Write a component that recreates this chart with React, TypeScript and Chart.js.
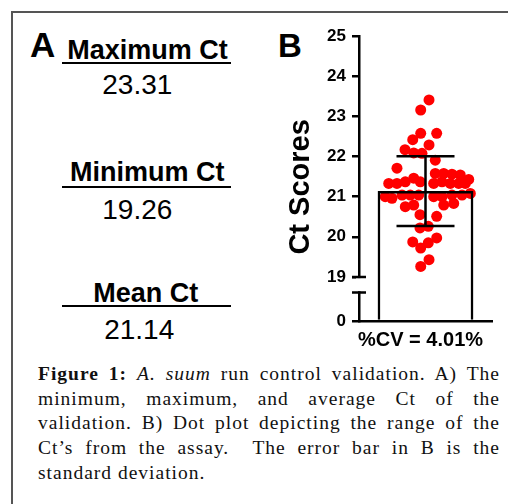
import React, { useEffect, useRef } from 'react';
import { Chart, registerables, LinearScale } from 'chart.js';

// ---------- data ----------
const CATEGORY = ['%CV = 4.01%'];
const MEAN_CT = [21.14];
const SD_CT = [0.87];
// Individual Ct scores
const CT_VALUES = [
  23.41, 23.16, 22.58, 22.58, 22.42, 22.29, 22.17, 22.09, 22.08, 21.91,
  21.71, 21.58, 21.58, 21.56, 21.54, 21.43, 21.33, 21.33, 21.37, 21.46,
  21.37, 21.33, 21.37, 21.33, 21.33, 21.33, 21.0, 20.96, 21.04, 21.04,
  21.04, 21.0, 21.0, 21.04, 21.04, 21.08, 20.75, 20.79, 20.79, 20.83,
  20.55, 20.51, 20.22, 20.26, 19.87, 19.72, 19.85, 19.97, 19.26, 19.43,
];
// Horizontal swarm position of each dot (-1 .. 1 across the plot width)
const SWARM_X = [
  0.053, -0.072, -0.072, 0.168, -0.192, 0.053, -0.308, -0.177, -0.053, 0.147,
  -0.429, 0.147, 0.274, 0.398, 0.523, 0.65, -0.553, -0.429, -0.304, -0.177,
  -0.078, 0.123, 0.248, 0.373, 0.499, 0.598, -0.605, -0.504, -0.353, -0.229,
  -0.102, 0.123, 0.248, 0.398, 0.549, 0.674, -0.304, -0.177, 0.274, 0.424,
  -0.083, 0.168, -0.083, 0.042, -0.192, -0.072, 0.042, 0.168, -0.072, 0.053,
];
const Y_TICKS = [0, 19, 20, 21, 22, 23, 24, 25];
const Y_TITLE = 'Ct Scores';
const Y_MAX = 25;
const BREAK_AT = 19; // upper segment starts here
const AXIS_LOW = 17.9; // where 0 sits on the upper segment's scale
const BREAK_RESUME = 12.3; // value where the lower segment resumes

const SUMMARY_TITLES = ['Maximum Ct', 'Minimum Ct', 'Mean Ct'];
const SUMMARY_VALUES = ['23.31', '19.26', '21.14'];

const SANS = '"Liberation Sans", Arial, sans-serif';
const SERIF = '"Liberation Serif", "Times New Roman", serif';

// ---------- broken linear scale: 0..19 squeezed below the break ----------
const toMapped = (v: number) => (v < BREAK_AT ? AXIS_LOW + (v / BREAK_AT) * (BREAK_AT - AXIS_LOW) : v);
const fromMapped = (m: number) => (m < BREAK_AT ? ((m - AXIS_LOW) / (BREAK_AT - AXIS_LOW)) * BREAK_AT : m);

class BrokenLinearScale extends LinearScale {
  static id = 'brokenLinear';
  static defaults = LinearScale.defaults;
  getPixelForValue(value: any) {
    if (value === null || value === undefined || isNaN(value)) return NaN;
    return super.getPixelForValue(toMapped(value));
  }
  getValueForPixel(pixel: number) {
    return fromMapped(super.getValueForPixel(pixel));
  }
}

Chart.register(...registerables, BrokenLinearScale as any);

const TICK_LEN = 7;

const errorBarPlugin = {
  id: 'errorBar',
  afterDatasetsDraw(chart: any) {
    const meta = chart.getDatasetMeta(1);
    const y = chart.scales.y;
    const ctx = chart.ctx;
    meta.data.forEach((bar: any, i: number) => {
      const x = bar.x;
      const top = y.getPixelForValue(MEAN_CT[i] + SD_CT[i]);
      const bot = y.getPixelForValue(MEAN_CT[i] - SD_CT[i]);
      const cap = 29;
      ctx.save();
      ctx.strokeStyle = '#000';
      ctx.lineWidth = 2.5;
      ctx.beginPath();
      ctx.moveTo(x, top);
      ctx.lineTo(x, bot);
      ctx.moveTo(x - cap, top);
      ctx.lineTo(x + cap, top);
      ctx.moveTo(x - cap, bot);
      ctx.lineTo(x + cap, bot);
      ctx.stroke();
      ctx.restore();
    });
  },
};

const axisBreakPlugin = {
  id: 'axisBreak',
  afterDraw(chart: any) {
    const y = chart.scales.y;
    const ctx = chart.ctx;
    const x = chart.chartArea.left;
    const pTop = y.getPixelForValue(BREAK_AT);
    const pBot = y.getPixelForValue(BREAK_RESUME);
    ctx.save();
    ctx.fillStyle = '#fff';
    ctx.fillRect(x - 3, pTop + 1.25, 6, pBot - pTop - 2.5);
    ctx.strokeStyle = '#000';
    ctx.lineWidth = 2.5;
    ctx.beginPath();
    ctx.moveTo(x - TICK_LEN, pTop);
    ctx.lineTo(x + TICK_LEN, pTop);
    ctx.moveTo(x - TICK_LEN, pBot);
    ctx.lineTo(x + TICK_LEN, pBot);
    ctx.stroke();
    // axis title
    const ca = chart.chartArea;
    ctx.translate(x - 58.3, (ca.top + ca.bottom) / 2 + 8.3);
    ctx.rotate(-Math.PI / 2);
    ctx.fillStyle = '#000';
    ctx.font = `bold 29px ${SANS}`;
    ctx.textAlign = 'center';
    ctx.textBaseline = 'middle';
    ctx.fillText(Y_TITLE, 0, 0);
    ctx.restore();
  },
};

function ChartB() {
  const ref = useRef<HTMLCanvasElement>(null);
  useEffect(() => {
    if (!ref.current) return;
    const chart = new Chart(ref.current, {
      type: 'bar',
      data: {
        labels: CATEGORY,
        datasets: [
          {
            type: 'scatter',
            data: CT_VALUES.map((v, i) => ({ x: SWARM_X[i], y: v })),
            backgroundColor: '#ff0000',
            borderWidth: 0,
            pointRadius: 5.5,
            xAxisID: 'xs',
            yAxisID: 'y',
            order: 2,
          } as any,
          {
            type: 'bar',
            data: MEAN_CT,
            backgroundColor: 'rgba(0,0,0,0)',
            borderColor: '#000',
            borderWidth: 2.5,
            barPercentage: 0.72,
            categoryPercentage: 1,
            grouped: false,
            xAxisID: 'x',
            yAxisID: 'y',
            order: 1,
          } as any,
        ],
      },
      options: {
        responsive: false,
        animation: false,
        layout: { padding: { top: 15.7, right: 16, bottom: 0, left: 0 } },
        plugins: { legend: { display: false }, tooltip: { enabled: false } },
        scales: {
          x: {
            type: 'category',
            position: 'bottom',
            grid: { display: false, drawTicks: false },
            border: { display: true, color: '#000', width: 2.5 },
            ticks: {
              color: '#000',
              font: { family: SANS, size: 20, weight: 'bold' },
              padding: 7,
              labelOffset: -5,
              maxRotation: 0,
              autoSkip: false,
            },
            afterFit: (s: any) => {
              s.height = 30;
            },
          },
          xs: { type: 'linear', display: false, min: -1, max: 1, offset: false },
          y: {
            type: 'brokenLinear',
            position: 'left',
            min: AXIS_LOW,
            max: Y_MAX,
            afterBuildTicks: (s: any) => {
              s.ticks = Y_TICKS.map((v) => ({ value: v }));
            },
            grid: {
              display: true,
              drawOnChartArea: false,
              drawTicks: true,
              tickLength: TICK_LEN,
              color: '#000',
              lineWidth: 2.5,
            },
            border: { display: true, color: '#000', width: 2.5 },
            ticks: {
              color: '#000',
              font: { family: SANS, size: 17, weight: 'bold' },
              padding: 6,
            },
            title: { display: false },
            afterFit: (s: any) => {
              s.width = 89;
            },
          } as any,
        },
      } as any,
      plugins: [errorBarPlugin, axisBreakPlugin],
    });
    return () => chart.destroy();
  }, []);
  return (
    <canvas
      ref={ref}
      width={238}
      height={331}
      style={{ position: 'absolute', left: 270, top: 20, width: 238, height: 331 }}
    />
  );
}

const TITLE_TOPS = [37.1, 158.8, 280.4];
const TITLE_CENTERS = [147.5, 147.3, 145.8];
const RULE_TOPS = [62.3, 185.7, 305];
const VALUE_TOPS = [71.3, 196.3, 316.3];
const VALUE_CENTERS = [137.3, 137.3, 139.2];

const lineStyle: React.CSSProperties = { textAlign: 'justify', textAlignLast: 'justify', whiteSpace: 'nowrap' };

export default function App() {
  return (
    <div
      style={{
        position: 'fixed',
        left: 0,
        top: 0,
        width: 508,
        height: 504,
        background: '#fff',
        overflow: 'hidden',
        fontFamily: SANS,
        color: '#000',
      }}
    >
      <div
        style={{
          position: 'absolute',
          left: 11,
          top: 11,
          width: 496,
          height: 493,
          borderTop: '2px solid #555',
          borderLeft: '2px solid #555',
        }}
      />
      <div style={{ position: 'absolute', left: 30, top: 27.1, fontSize: 35, fontWeight: 'bold', lineHeight: 1 }}>A</div>
      <div style={{ position: 'absolute', left: 278, top: 29.1, fontSize: 33, fontWeight: 'bold', lineHeight: 1 }}>B</div>
      {SUMMARY_TITLES.map((t, i) => (
        <React.Fragment key={t}>
          <div
            style={{
              position: 'absolute',
              left: TITLE_CENTERS[i] - 100,
              width: 200,
              textAlign: 'center',
              top: TITLE_TOPS[i],
              fontSize: 27,
              fontWeight: 'bold',
              lineHeight: 1,
              whiteSpace: 'nowrap',
            }}
          >
            {t}
          </div>
          <div style={{ position: 'absolute', left: 62, width: 169, top: RULE_TOPS[i], height: 2, background: '#000' }} />
          <div
            style={{
              position: 'absolute',
              left: VALUE_CENTERS[i] - 100,
              width: 200,
              textAlign: 'center',
              top: VALUE_TOPS[i],
              fontSize: 28,
              lineHeight: 1,
            }}
          >
            {SUMMARY_VALUES[i]}
          </div>
        </React.Fragment>
      ))}
      <ChartB />
      <div
        style={{
          position: 'absolute',
          left: 38,
          top: 361.8,
          width: 462,
          fontFamily: SERIF,
          fontSize: 19.5,
          letterSpacing: '1px',
          lineHeight: '24.7px',
          color: '#111',
        }}
      >
        <div style={lineStyle}>
          <b>Figure 1:</b> <i>A. suum</i> run control validation. A) The
        </div>
        <div style={lineStyle}>minimum, maximum, and average Ct of the</div>
        <div style={lineStyle}>validation. B) Dot plot depicting the range of the</div>
        <div style={lineStyle}>Ct’s from the assay.&nbsp; The error bar in B is the</div>
        <div>standard deviation.</div>
      </div>
    </div>
  );
}
